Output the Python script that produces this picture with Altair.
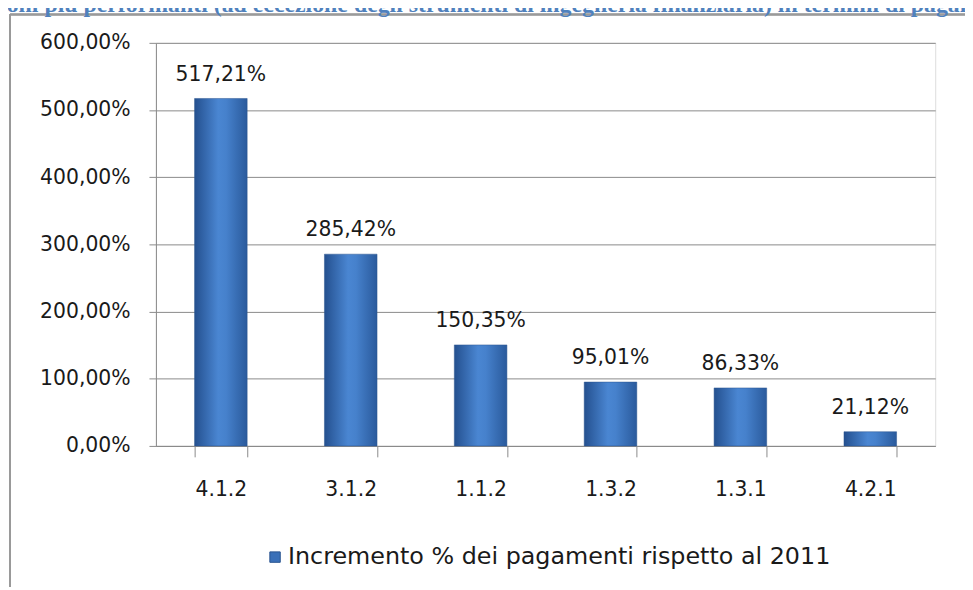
import altair as alt
import pandas as pd

categories = ["4.1.2", "3.1.2", "1.1.2", "1.3.2", "1.3.1", "4.2.1"]
values = [517.21, 285.42, 150.35, 95.01, 86.33, 21.12]
labels = ["517,21%", "285,42%", "150,35%", "95,01%", "86,33%", "21,12%"]
y_ticks = [0, 100, 200, 300, 400, 500, 600]
series_name = "Incremento % dei pagamenti rispetto al 2011"
title_text = ("ioni più performanti (ad eccezione degli strumenti di ingegneria "
              "finanziaria) in termini di pagamenti")

df = pd.DataFrame({"cat": categories, "val": values, "lab": labels,
                   "serie": [series_name] * len(categories)})

FONT = "DejaVu Sans"
W, H = 785, 406

x_enc = alt.X("cat:N", sort=categories, title=None,
              scale=alt.Scale(paddingInner=0.595, paddingOuter=0.2975),
              axis=alt.Axis(labelFont=FONT, labelFontSize=20.5, labelColor="#1a1a1a",
                            labelAngle=0, tickBand="extent", tickSize=11,
                            tickColor="#8a8a8a", domainColor="#8a8a8a",
                            labelPadding=23, grid=False))
y_enc = alt.Y("val:Q", title=None,
              scale=alt.Scale(domain=[0, 600], nice=False),
              axis=alt.Axis(values=y_ticks, labelFont=FONT, labelFontSize=20.5,
                            labelColor="#1a1a1a", tickSize=7, tickColor="#8a8a8a",
                            domainColor="#8a8a8a", gridColor="#8a8a8a",
                            labelPadding=19,
                            labelExpr="replace(format(datum.value, '.2f'), '.', ',') + '%'"))

grad = alt.LinearGradient(
    gradient="linear", x1=0, x2=1, y1=0, y2=0,
    stops=[alt.GradientStop(offset=0, color="#24508f"),
           alt.GradientStop(offset=0.45, color="#4a86d2"),
           alt.GradientStop(offset=0.6, color="#4681cc"),
           alt.GradientStop(offset=1, color="#2a5a9c")])

base = alt.Chart(df)

bars = base.mark_bar(color=grad, stroke="#2a5590", strokeWidth=0.5).encode(x=x_enc, y=y_enc)

legend_layer = base.mark_square(opacity=0).encode(
    x=alt.X("cat:N", sort=categories),
    y=alt.Y("val:Q"),
    color=alt.Color("serie:N", title=None,
                    scale=alt.Scale(range=["#3a70b8"]),
                    legend=alt.Legend(orient="none", legendX=108, legendY=506,
                                      symbolType="square", symbolSize=110,
                                      symbolOpacity=1, symbolStrokeColor="#2a5590",
                                      symbolStrokeWidth=1,
                                      labelFont=FONT, labelFontSize=24,
                                      labelColor="#1a1a1a", labelLimit=800,
                                      labelOffset=1)))

texts = base.mark_text(font=FONT, fontSize=20.5, color="#1a1a1a", baseline="alphabetic",
                       dy=-18).encode(x=alt.X("cat:N", sort=categories),
                                      y=alt.Y("val:Q"), text="lab:N")

frame_top = base.mark_rule(color="#9a9a9a", strokeWidth=1.5).encode(
    x=alt.value(-147), x2=alt.value(W + 60), y=alt.value(-28.5))
frame_left = base.mark_rule(color="#9a9a9a", strokeWidth=1.5).encode(
    x=alt.value(-147), y=alt.value(-28.5), y2=alt.value(H + 160))

title_df = pd.DataFrame({"t": [title_text]})
title_mark = alt.Chart(title_df).mark_text(
    font="Liberation Serif", fontWeight="bold", fontSize=24, color="#4f81bd",
    align="left", baseline="alphabetic").encode(
    x=alt.value(-157), y=alt.value(-31), text="t:N")

chart = alt.layer(frame_top, frame_left, title_mark, bars, legend_layer, texts).properties(
    width=W, height=H,
    autosize=alt.AutoSizeParams(type="none"),
    padding={"left": 149, "top": 33, "right": 30, "bottom": 140},
).configure_view(stroke=None).configure(background="white")

chart.save("out.html", embed_options={"renderer": "svg", "actions": False})
